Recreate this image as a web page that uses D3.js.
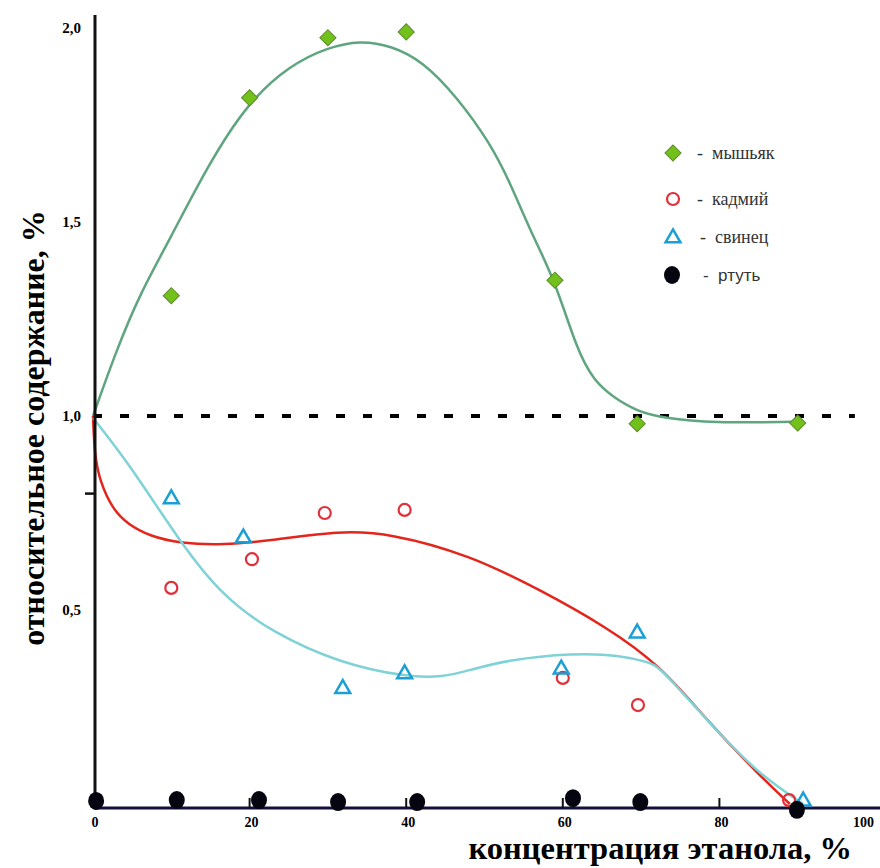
<!DOCTYPE html>
<html>
<head>
<meta charset="utf-8">
<script src="https://cdnjs.cloudflare.com/ajax/libs/d3/7.8.5/d3.min.js"></script>
<style>
  body { margin: 0; background: #fff; }
  svg { display: block; }
</style>
</head>
<body>
<div id="chart"></div>
<script>
// Measured points (x = ethanol %, y = relative content)
let arsenic = [[10,1.31],[20,1.82],[30,1.975],[40,1.99],[59,1.35],[69.5,0.98],[90,0.982]];
let cadmium = [[10,0.557],[20.3,0.631],[29.6,0.75],[39.8,0.758],[60,0.325],[69.6,0.255],[88.9,0.01]];
let lead = [[10,0.789],[19.2,0.688],[31.9,0.30],[39.8,0.338],[59.8,0.35],[69.5,0.443],[90.7,0.01]];
let mercury = [[0.4,0.008],[10.7,0.01],[21.2,0.01],[31.3,0.005],[41.4,0.005],[61.3,0.015],[69.9,0.005],[89.9,-0.015]];

// Fitted trend curves
let arsenicCurve = [[0,1.0],[3,1.17],[6,1.315],[9.8,1.455],[14.5,1.64],[19.7,1.807],[25.2,1.905],[30,1.950],[34.1,1.968],[38,1.955],[42.1,1.915],[46.5,1.822],[50.7,1.704],[53.3,1.60],[55.8,1.479],[59,1.35],[61.8,1.17],[64,1.09],[66.4,1.049],[69.5,1.012],[72.8,0.995],[79.2,0.982],[89.4,0.985]];
let cadmiumCurve = [[0,1.0],[0.2,0.9],[0.9,0.83],[2.5,0.76],[4.5,0.72],[7.3,0.69],[11.1,0.672],[16.6,0.667],[23,0.68],[31.5,0.704],[37.9,0.698],[48.1,0.642],[57.1,0.552],[65.6,0.456],[72.4,0.358],[78.4,0.216],[84.8,0.08],[89,0.0]];
let leadCurve = [[0,0.995],[4.9,0.869],[11.1,0.675],[16.6,0.534],[23,0.441],[31.5,0.363],[40.1,0.327],[44.7,0.327],[48.1,0.345],[52.9,0.371],[61.3,0.389],[67.3,0.384],[71,0.365],[72.4,0.353],[78.4,0.216],[84.8,0.08],[90.7,0.0]];

let xTicks = [0,20,40,60,80,100];
let yTicks = [0.5,1.0,1.5,2.0];
let legendNames = ["мышьяк","кадмий","свинец","ртуть"];

let width = 880, height = 868;

let x = d3.scaleLinear().domain([0,100]).range([93,876]);
let y = d3.scaleLinear().domain([0,2]).range([804,28]);

let svg = d3.select("#chart").append("svg")
    .attr("width", width)
    .attr("height", height);

let serif = "'Liberation Serif', 'Times New Roman', serif";

// Reference line at 1.0
svg.append("line")
    .attr("x1", x(0)).attr("x2", x(97.3))
    .attr("y1", y(1)).attr("y2", y(1))
    .attr("stroke", "#000")
    .attr("stroke-width", 4)
    .attr("stroke-dasharray", "9,18");

// Curves
let line = d3.line()
    .x(function(d) { return x(d[0]); })
    .y(function(d) { return y(d[1]); })
    .curve(d3.curveBasis);

svg.append("path").datum(arsenicCurve)
    .attr("d", line).attr("fill", "none")
    .attr("stroke", "#5fa57f").attr("stroke-width", 2.5);
svg.append("path").datum(cadmiumCurve)
    .attr("d", line).attr("fill", "none")
    .attr("stroke", "#e3251c").attr("stroke-width", 2.5);
svg.append("path").datum(leadCurve)
    .attr("d", line).attr("fill", "none")
    .attr("stroke", "#7fd2d6").attr("stroke-width", 2.5);

// Axes
let yAxisG = svg.append("g");
yAxisG.append("line")
    .attr("x1", x(0)+2).attr("x2", x(0)+2)
    .attr("y1", 15).attr("y2", y(0)+5)
    .attr("stroke", "#111").attr("stroke-width", 3);
yAxisG.append("line")
    .attr("x1", x(0)+2).attr("x2", x(0)-8)
    .attr("y1", y(0.8)).attr("y2", y(0.8))
    .attr("stroke", "#111").attr("stroke-width", 2.5);
yAxisG.selectAll(".ylab")
    .data(yTicks)
    .enter().append("text")
    .attr("class", "ylab")
    .attr("x", 81)
    .attr("y", function(d) { return y(d); })
    .attr("dy", "0.35em")
    .attr("text-anchor", "end")
    .style("font-family", serif)
    .style("font-weight", "bold")
    .style("font-size", "15px")
    .text(function(d) { return d3.format(".1f")(d).replace(".", ","); });

let xAxisG = svg.append("g");
xAxisG.append("line")
    .attr("x1", x(0)+1).attr("x2", 880)
    .attr("y1", y(0)+4).attr("y2", y(0)+4)
    .attr("stroke", "#11113a").attr("stroke-width", 3);
xAxisG.selectAll(".xtick")
    .data(xTicks.slice(1, 5))
    .enter().append("line")
    .attr("class", "xtick")
    .attr("x1", function(d) { return x(d); })
    .attr("x2", function(d) { return x(d); })
    .attr("y1", y(0)+4).attr("y2", y(0)-6)
    .attr("stroke", "#111").attr("stroke-width", 2);
xAxisG.selectAll(".xlab")
    .data(xTicks)
    .enter().append("text")
    .attr("class", "xlab")
    .attr("x", function(d) { return d === 100 ? x(d) - 2 : x(d) + 2; })
    .attr("y", 827)
    .attr("text-anchor", function(d) { return d === 100 ? "end" : "middle"; })
    .style("font-family", serif)
    .style("font-weight", "bold")
    .style("font-size", "14px")
    .text(function(d) { return d; });

// Axis titles
svg.append("text")
    .attr("x", 852).attr("y", 859)
    .attr("text-anchor", "end")
    .style("font-family", serif)
    .style("font-weight", "bold")
    .style("font-size", "32.5px")
    .text("концентрация этанола, %");

svg.append("text")
    .attr("transform", "translate(44,428) rotate(-90)")
    .attr("text-anchor", "middle")
    .style("font-family", serif)
    .style("font-weight", "bold")
    .style("font-size", "32px")
    .text("относительное содержание, %");

// Markers
let diamond = d3.symbol().type(d3.symbolSquare).size(130);
let tri = d3.symbol().type(d3.symbolTriangle).size(95);

function drawDiamonds(g, data) {
    g.selectAll(".dia").data(data).enter().append("path")
        .attr("class", "dia")
        .attr("d", diamond)
        .attr("transform", function(d) { return "translate(" + x(d[0]) + "," + y(d[1]) + ") rotate(45)"; })
        .attr("fill", "#72c11b").attr("stroke", "#5d8a2a").attr("stroke-width", 1);
}
function drawCircles(g, data) {
    g.selectAll(".circ").data(data).enter().append("circle")
        .attr("class", "circ")
        .attr("cx", function(d) { return x(d[0]); })
        .attr("cy", function(d) { return y(d[1]); })
        .attr("r", 6)
        .attr("fill", "none").attr("stroke", "#e0303a").attr("stroke-width", 2.2);
}
function drawTriangles(g, data) {
    g.selectAll(".tri").data(data).enter().append("path")
        .attr("class", "tri")
        .attr("d", tri)
        .attr("transform", function(d) { return "translate(" + x(d[0]) + "," + (y(d[1]) + 1) + ")"; })
        .attr("fill", "none").attr("stroke", "#1b9fd4").attr("stroke-width", 2.5);
}
function drawDots(g, data) {
    g.selectAll(".dot").data(data).enter().append("ellipse")
        .attr("class", "dot")
        .attr("cx", function(d) { return x(d[0]); })
        .attr("cy", function(d) { return y(d[1]); })
        .attr("rx", 8).attr("ry", 9)
        .attr("fill", "#05050f");
}

let marks = svg.append("g");
drawDiamonds(marks.append("g"), arsenic);
drawCircles(marks.append("g"), cadmium);
drawTriangles(marks.append("g"), lead);
drawDots(marks.append("g"), mercury);

// Legend
let legendY = [153, 199, 237, 275];
let legend = svg.append("g");
let lx = 673;
legend.append("path").attr("d", diamond)
    .attr("transform", "translate(" + lx + "," + legendY[0] + ") rotate(45)")
    .attr("fill", "#72c11b").attr("stroke", "#5d8a2a").attr("stroke-width", 1);
legend.append("circle").attr("cx", lx).attr("cy", legendY[1]).attr("r", 6)
    .attr("fill", "none").attr("stroke", "#e0303a").attr("stroke-width", 2.2);
legend.append("path").attr("d", tri)
    .attr("transform", "translate(" + lx + "," + (legendY[2] + 1) + ")")
    .attr("fill", "none").attr("stroke", "#1b9fd4").attr("stroke-width", 2.5);
legend.append("ellipse").attr("cx", lx - 1).attr("cy", legendY[3]).attr("rx", 8).attr("ry", 9)
    .attr("fill", "#05050f");

legend.selectAll(".ltext")
    .data(legendNames)
    .enter().append("text")
    .attr("class", "ltext")
    .attr("x", function(d, i) { return i === 3 ? 703 : i === 2 ? 700 : 697; })
    .attr("y", function(d, i) { return legendY[i]; })
    .attr("dy", "0.35em")
    .style("font-family", function(d, i) { return i === 3 ? "'Liberation Sans', Arial, sans-serif" : serif; })
    .style("font-size", function(d, i) { return i === 3 ? "17px" : "18px"; })
    .style("fill", "#333")
    .attr("xml:space", "preserve")
    .text(function(d) { return "-  " + d; });
</script>
</body>
</html>
